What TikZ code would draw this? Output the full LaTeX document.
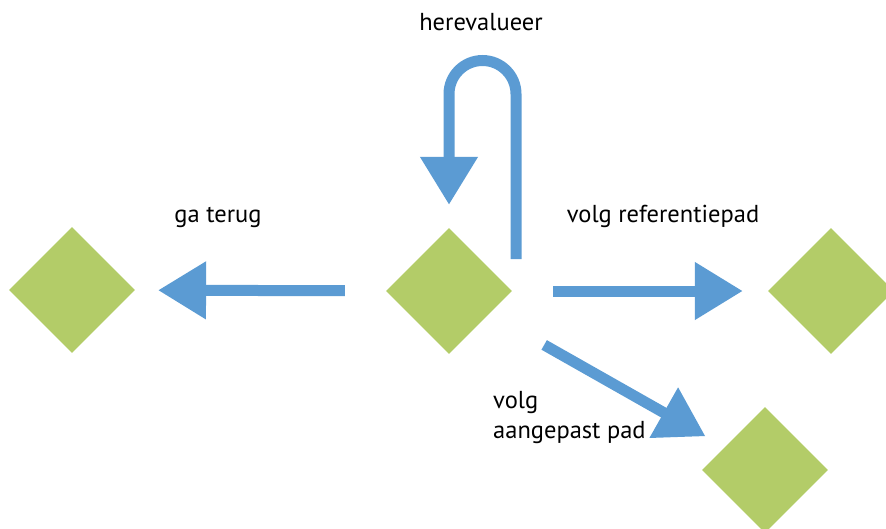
\documentclass[tikz,border=0pt]{standalone}
\usepackage{fontspec}
\setmainfont{PT Sans}
\usetikzlibrary{shapes.geometric,arrows.meta}

\definecolor{pfeilblau}{RGB}{91,155,211}
\definecolor{blattgruen}{RGB}{179,204,104}

\begin{document}
\begin{tikzpicture}
		[
		x=1pt, y=-1pt, font=\fontsize{24.5}{30}\selectfont,
		%Voreinstellung für Rauten und Pfeile
		raute/.style={diamond, fill=blattgruen, inner sep=0pt, minimum width=126pt, minimum height=126pt},
		pfeil/.style={pfeilblau, line width=11pt, -{Triangle[length=48pt,width=55pt]}},
		]
		
		%Rahmen
		\useasboundingbox (0,0) rectangle (886,528);
		\clip (0,0) rectangle (886,528);
		
		%Rauten
		\node[raute] (mitte) at (449,291) {};
		\node[raute] (links) at (72,290) {};
		\node[raute] (rechts) at (831,291) {};
		\node[raute] (unten) at (765,470) {};
		
		%Texte
		\node[anchor=base] (herev) at (481,30) {herevalueer};
		\node[anchor=base] (zurueck) at (218,222) {ga terug};
		\node[anchor=base] (referenz) at (663,222) {volg referentiepad};
		\node[anchor=base west, align=left, inner sep=0pt] (aangepast) at (493,438) {volg\\aangepast pad};
		
		%Pfeil nach links
		\draw[pfeil, shorten <=41pt, shorten >=23pt] (mitte) -- (links);
		%Pfeil nach rechts
		\draw[pfeil, shorten <=41pt, shorten >=25pt] (mitte) -- (rechts);
		%Pfeil schraeg
		\draw[pfeil, shorten <=63pt, shorten >=22pt] (mitte) -- (unten);
		%Schleife
		\draw[pfeil] ([xshift=67pt,yshift=32pt]mitte.center) -- ++(0,-165) arc (0:-180:33.5) -- ([yshift=23pt]mitte.north);
	\end{tikzpicture}
\end{document}
